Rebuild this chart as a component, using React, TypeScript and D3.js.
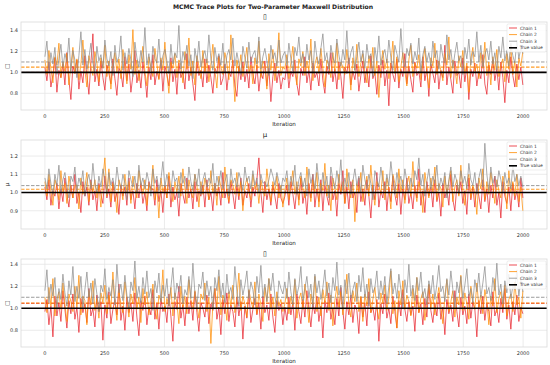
import React, { useEffect, useRef } from "react";
import * as d3 from "d3";

// Iterations are thinned: each array holds evenly spaced samples across 0..1999
const ITER_LAST = 1999;
const xTicks = [0, 250, 500, 750, 1000, 1250, 1500, 1750, 2000];
const chainNames = ["Chain 1", "Chain 2", "Chain 3"];
const chainColors = ["#e8202a", "#ff8c00", "#8c8c8c"];

// sigma (top panel)
const sigmaChain1 = [
  1.05, 0.92, 1.10, 0.86, 0.98, 1.14, 0.81, 1.02, 0.95, 1.08,
  0.88, 1.19, 0.93, 0.74, 1.06, 0.99, 1.12, 0.84, 1.01, 0.90,
  1.16, 0.97, 0.79, 1.09, 1.37, 0.91, 1.03, 0.87, 1.11, 0.95,
  0.83, 1.07, 0.99, 0.89, 1.13, 0.94, 0.78, 1.04, 1.00, 0.86,
  1.15, 0.92, 1.08, 0.81, 0.97, 1.21, 0.90, 1.02, 0.85, 1.10,
  0.96, 0.76, 1.05, 0.93, 1.17, 0.88, 1.01, 0.94, 1.12, 0.82,
  1.06, 0.98, 0.87, 1.14, 0.91, 1.03, 0.79, 1.09, 0.95, 1.00,
  0.84, 1.18, 0.92, 1.05, 0.89, 0.73, 1.11, 0.97, 1.02, 0.86,
  1.13, 0.90, 1.07, 0.95, 0.80, 1.04, 0.99, 1.16, 0.88, 0.94,
  1.08, 0.83, 1.01, 0.96, 1.12, 0.87, 0.77, 1.06, 0.93, 1.10,
  0.91, 1.03, 0.85, 1.15, 0.98, 0.89, 1.07, 0.82, 1.00, 0.94,
  1.11, 0.87, 1.04, 0.72, 0.96, 1.09, 0.90, 1.02, 0.84, 0.95,
  0.93, 1.07, 0.85, 1.01, 0.96, 1.12, 0.89, 0.78, 1.04, 0.97,
  1.15, 0.90, 1.02, 0.83, 1.09, 0.95, 1.00, 0.87, 1.13, 0.92,
  0.80, 1.06, 0.98, 1.19, 0.91, 1.03, 0.84, 1.10, 0.96, 0.75,
  1.05, 0.99, 1.14, 0.88, 1.01, 0.93, 1.08, 0.82, 0.97, 1.11,
  0.90, 1.04, 0.86, 1.16, 0.94, 1.00, 0.79, 1.07, 0.95, 1.12,
  0.87, 1.02, 0.68, 1.09, 0.98, 0.91, 1.13, 0.85, 1.03, 0.96,
  1.18, 0.89, 1.06, 0.93, 0.81, 1.10, 0.97, 1.01, 0.86, 1.15,
  0.92, 1.04, 0.77, 1.08, 0.99, 0.90, 1.12, 0.84, 1.02, 0.95,
  1.26, 0.88, 1.05, 0.93, 0.80, 1.11, 0.97, 1.00, 0.85, 1.14,
  0.91, 1.06, 0.74, 1.03, 0.96, 1.09, 0.87, 1.01, 0.94, 1.17,
  0.89, 0.79, 1.07, 0.98, 1.12, 0.92, 1.04, 0.83, 1.10, 0.95,
  0.71, 1.02, 0.90, 1.15, 0.97, 0.86, 1.08, 0.93, 1.05, 0.88,
];
const sigmaChain2 = [
  1.12, 0.98, 1.21, 1.03, 0.90, 1.15, 1.07, 1.28, 0.95, 1.10,
  1.01, 1.18, 0.88, 1.06, 1.24, 0.99, 1.13, 0.93, 1.08, 1.31,
  1.02, 0.86, 1.16, 1.05, 0.97, 1.20, 1.09, 0.91, 1.14, 1.04,
  1.26, 0.96, 1.11, 0.84, 1.07, 1.19, 1.00, 1.13, 0.94, 1.22,
  1.06, 0.89, 1.17, 1.03, 1.41, 0.98, 1.12, 0.92, 1.09, 1.25,
  1.01, 0.87, 1.15, 1.05, 0.96, 1.23, 1.08, 0.93, 1.14, 1.02,
  1.29, 0.99, 0.80, 1.10, 1.04, 1.18, 0.95, 1.12, 1.07, 0.90,
  1.20, 1.03, 1.33, 0.97, 1.11, 0.88, 1.16, 1.06, 0.94, 1.21,
  1.00, 1.13, 0.91, 1.08, 1.27, 1.02, 0.85, 1.15, 1.05, 0.98,
  1.19, 1.09, 0.93, 1.36, 1.04, 0.72, 1.12, 1.01, 1.17, 0.96,
  1.10, 1.24, 0.99, 1.07, 0.89, 1.14, 1.03, 1.30, 0.95, 1.11,
  1.06, 0.84, 1.18, 1.02, 1.22, 0.92, 1.09, 1.38, 0.97, 1.05,
  1.03, 1.17, 0.94, 1.09, 1.25, 1.00, 0.88, 1.13, 1.06, 1.20,
  0.97, 1.11, 1.02, 1.32, 0.92, 1.08, 1.15, 0.99, 1.23, 1.04,
  0.86, 1.12, 1.07, 0.95, 1.19, 1.01, 1.28, 0.93, 1.10, 1.05,
  0.98, 1.22, 1.06, 0.83, 1.14, 1.02, 1.27, 0.96, 1.09, 1.18,
  1.00, 0.90, 1.16, 1.04, 1.24, 0.97, 1.11, 0.76, 1.07, 1.21,
  1.03, 1.13, 0.94, 1.08, 1.30, 0.99, 1.15, 0.91, 1.05, 1.19,
  1.01, 0.87, 1.12, 1.26, 0.96, 1.09, 1.04, 1.17, 0.93, 1.10,
  1.23, 1.00, 0.85, 1.14, 1.06, 1.28, 0.98, 1.11, 1.02, 0.92,
  1.18, 1.07, 1.34, 0.95, 1.12, 1.03, 0.89, 1.16, 1.05, 1.21,
  0.99, 1.09, 0.81, 1.13, 1.24, 1.01, 1.08, 0.94, 1.19, 1.04,
  1.29, 0.97, 1.10, 0.88, 1.15, 1.02, 1.22, 0.96, 1.07, 1.13,
  0.91, 1.18, 1.03, 1.26, 0.98, 1.11, 0.86, 1.14, 1.06, 1.20,
];
const sigmaChain3 = [
  1.15, 1.30, 1.02, 1.19, 1.08, 1.24, 0.98, 1.13, 1.27, 1.05,
  1.18, 1.10, 1.33, 1.01, 1.21, 1.12, 0.95, 1.16, 1.39, 1.07,
  1.22, 1.03, 1.14, 1.28, 1.09, 0.99, 1.25, 1.11, 1.17, 1.04,
  1.31, 1.13, 1.06, 1.20, 0.97, 1.26, 1.10, 1.15, 1.35, 1.02,
  1.19, 1.08, 1.23, 1.12, 0.96, 1.29, 1.14, 1.05, 1.21, 1.10,
  1.43, 1.07, 1.18, 1.01, 1.25, 1.13, 1.09, 1.32, 1.04, 1.16,
  1.22, 1.11, 0.99, 1.27, 1.08, 1.19, 1.14, 1.45, 1.03, 1.20,
  1.12, 1.26, 1.06, 1.17, 0.94, 1.23, 1.10, 1.30, 1.05, 1.15,
  1.21, 1.09, 1.36, 1.13, 1.02, 1.24, 1.11, 1.18, 1.07, 1.28,
  1.00, 1.16, 1.22, 1.12, 1.33, 1.06, 1.19, 1.09, 0.98, 1.25,
  1.14, 1.04, 1.29, 1.10, 1.17, 1.21, 1.08, 1.34, 1.03, 1.15,
  1.23, 1.11, 0.97, 1.26, 1.13, 1.19, 1.06, 1.31, 1.09, 1.16,
  1.20, 1.07, 1.28, 1.13, 1.01, 1.24, 1.16, 1.34, 1.09, 1.18,
  1.05, 1.27, 1.12, 1.21, 0.99, 1.30, 1.15, 1.08, 1.23, 1.37,
  1.11, 1.19, 1.03, 1.26, 1.14, 1.09, 1.32, 1.17, 1.06, 1.22,
  1.12, 1.40, 1.08, 1.19, 1.25, 1.02, 1.15, 1.29, 1.10, 1.21,
  1.04, 1.27, 1.13, 1.18, 0.96, 1.24, 1.11, 1.35, 1.07, 1.16,
  1.22, 1.09, 1.31, 1.14, 1.02, 1.26, 1.18, 1.10, 1.42, 1.13,
  1.05, 1.23, 1.16, 1.28, 1.08, 1.20, 1.12, 1.33, 1.00, 1.17,
  1.25, 1.10, 1.19, 1.06, 1.30, 1.14, 1.21, 1.03, 1.27, 1.15,
  1.09, 1.36, 1.12, 1.22, 1.04, 1.18, 1.29, 1.11, 1.16, 0.98,
  1.24, 1.13, 1.32, 1.07, 1.20, 1.15, 1.39, 1.10, 1.26, 1.05,
  1.17, 1.23, 1.12, 1.30, 1.08, 1.19, 1.02, 1.25, 1.14, 1.34,
  1.11, 1.21, 1.06, 1.28, 1.16, 1.09, 1.31, 1.13, 1.24, 1.18,
];

// mu (middle panel)
const muChain1 = [
  1.03, 0.96, 1.07, 0.93, 1.01, 0.98, 1.05, 0.91, 1.02, 0.95,
  1.08, 0.99, 0.92, 1.04, 0.97, 1.10, 0.94, 1.00, 0.89, 1.06,
  0.98, 1.03, 0.93, 1.07, 0.96, 1.01, 0.90, 1.05, 0.99, 0.94,
  1.09, 0.97, 1.02, 0.92, 1.06, 0.95, 1.00, 0.88, 1.04, 0.98,
  1.03, 0.93, 1.08, 0.96, 1.01, 0.91, 1.05, 0.97, 1.05, 0.94,
  1.00, 0.90, 1.06, 1.02, 1.02, 0.93, 1.07, 0.95, 1.01, 0.89,
  1.04, 0.97, 1.09, 0.92, 1.03, 0.96, 1.00, 0.87, 1.05, 0.99,
  0.94, 1.08, 0.97, 1.02, 0.91, 1.06, 0.95, 1.01, 0.98, 1.04,
  0.92, 1.07, 0.96, 1.00, 0.90, 1.05, 0.98, 1.03, 0.93, 1.11,
  0.97, 1.02, 0.94, 1.06, 0.99, 0.91, 1.04, 0.96, 1.08, 0.93,
  1.01, 0.97, 1.05, 0.92, 1.03, 0.98, 1.07, 1.19, 1.00, 0.89,
  1.06, 0.96, 1.02, 0.93, 1.04, 0.98, 0.91, 1.05, 0.97, 0.94,
  0.98, 1.04, 0.93, 1.06, 0.99, 0.91, 1.03, 0.96, 1.08, 0.94,
  1.01, 0.88, 1.05, 0.97, 1.10, 0.92, 1.02, 0.95, 1.07, 0.90,
  1.04, 0.98, 0.93, 1.09, 0.96, 1.01, 0.87, 1.05, 0.99, 1.12,
  0.94, 1.03, 0.91, 1.06, 0.97, 1.00, 0.89, 1.08, 0.95, 1.02,
  0.93, 1.07, 0.98, 0.86, 1.04, 0.96, 1.11, 0.92, 1.01, 0.97,
  1.06, 0.90, 1.03, 0.95, 1.09, 0.99, 0.93, 1.05, 0.88, 1.02,
  0.96, 1.08, 0.94, 1.00, 0.91, 1.04, 0.97, 1.13, 0.93, 1.01,
  0.89, 1.06, 0.98, 1.03, 0.92, 1.07, 0.95, 1.00, 0.87, 1.05,
  0.97, 1.02, 0.93, 1.10, 0.96, 0.90, 1.04, 0.99, 1.06, 0.94,
  1.01, 0.88, 1.08, 0.96, 1.03, 0.92, 1.05, 0.98, 0.91, 1.07,
  0.95, 1.02, 0.89, 1.04, 0.97, 1.09, 0.93, 1.00, 0.86, 1.06,
  0.98, 0.94, 1.03, 0.90, 1.05, 0.96, 1.01, 0.92, 1.08, 0.97,
];
const muChain2 = [
  1.06, 0.98, 1.10, 1.01, 0.93, 1.07, 1.03, 0.96, 1.12, 1.00,
  1.05, 0.94, 1.09, 1.02, 0.97, 1.04, 1.04, 0.91, 1.08, 0.99,
  1.03, 1.11, 0.95, 1.06, 1.00, 1.07, 0.97, 1.04, 0.92, 1.08,
  1.19, 0.98, 1.13, 0.95, 1.05, 1.01, 0.89, 1.07, 1.03, 0.96,
  1.10, 1.00, 1.06, 0.94, 1.09, 1.02, 0.97, 1.12, 1.04, 0.99,
  1.07, 0.93, 1.05, 1.01, 1.15, 0.96, 1.03, 0.86, 1.08, 1.00,
  1.04, 0.97, 1.11, 1.02, 0.95, 1.06, 1.00, 1.09, 0.98, 1.13,
  1.03, 0.94, 1.07, 1.01, 0.97, 1.10, 1.04, 0.92, 1.06, 0.99,
  1.08, 1.02, 0.96, 1.12, 1.00, 1.05, 0.93, 1.09, 1.03, 0.97,
  1.14, 1.01, 0.95, 1.07, 1.04, 0.99, 1.11, 0.98, 1.06, 0.90,
  1.03, 1.08, 1.00, 0.96, 1.10, 1.02, 1.05, 0.94, 1.07, 1.01,
  0.98, 1.13, 1.03, 0.95, 1.06, 1.00, 1.09, 0.97, 1.04, 0.92,
  1.01, 1.08, 0.96, 1.04, 1.12, 0.99, 1.06, 0.93, 1.09, 1.02,
  0.97, 1.14, 1.03, 0.95, 1.07, 1.00, 1.11, 0.92, 1.05, 1.01,
  1.16, 0.98, 1.04, 0.90, 1.08, 1.03, 0.96, 1.10, 1.00, 1.06,
  0.94, 1.13, 1.02, 0.97, 1.07, 0.84, 1.05, 1.00, 1.11, 0.95,
  1.03, 1.09, 0.98, 1.15, 1.01, 0.93, 1.06, 1.04, 0.99, 1.12,
  0.96, 1.08, 1.02, 0.91, 1.10, 1.05, 0.97, 1.13, 1.00, 1.07,
  0.94, 1.04, 1.09, 0.98, 1.17, 1.02, 0.95, 1.06, 1.01, 0.89,
  1.11, 1.03, 0.97, 1.08, 1.00, 1.14, 0.96, 1.05, 1.02, 0.92,
  1.09, 0.99, 1.06, 1.12, 0.95, 1.03, 1.07, 0.98, 1.15, 1.01,
  0.93, 1.05, 1.10, 0.97, 1.04, 1.00, 0.88, 1.08, 1.02, 1.13,
  0.96, 1.06, 0.99, 1.11, 1.03, 0.94, 1.07, 1.01, 0.97, 1.09,
  1.04, 0.91, 1.12, 1.00, 1.06, 0.98, 1.10, 0.95, 1.03, 0.90,
];
const muChain3 = [
  1.08, 1.02, 1.13, 1.05, 0.99, 1.10, 1.04, 1.15, 1.00, 1.07,
  1.11, 1.03, 0.97, 1.09, 1.06, 1.14, 1.01, 1.08, 1.04, 1.12,
  0.98, 1.06, 1.10, 1.02, 1.16, 1.05, 1.00, 1.09, 1.03, 1.13,
  1.07, 0.99, 1.11, 1.04, 1.08, 1.01, 1.14, 1.06, 1.02, 1.10,
  1.05, 0.96, 1.12, 1.07, 1.03, 1.09, 1.00, 1.15, 1.04, 1.08,
  1.02, 1.11, 1.06, 0.98, 1.13, 1.05, 1.09, 1.01, 1.07, 1.17,
  1.03, 1.10, 1.04, 1.00, 1.12, 1.06, 1.08, 0.97, 1.11, 1.05,
  1.09, 1.02, 1.14, 1.06, 1.01, 1.10, 1.04, 1.13, 0.99, 1.07,
  1.11, 1.03, 1.08, 1.05, 1.16, 1.00, 1.09, 1.04, 1.12, 1.02,
  1.06, 1.10, 0.98, 1.13, 1.05, 1.08, 1.03, 1.11, 1.07, 1.01,
  1.14, 1.06, 1.09, 1.02, 1.12, 1.04, 1.08, 1.00, 1.10, 1.05,
  1.06, 1.03, 1.07, 1.13, 1.09, 1.04, 1.11, 1.06, 1.01, 1.08,
  1.06, 1.12, 1.01, 1.09, 1.04, 1.15, 0.99, 1.07, 1.11, 1.03,
  1.08, 0.98, 1.13, 1.05, 1.10, 1.02, 1.16, 1.06, 1.00, 1.11,
  1.04, 1.09, 0.97, 1.14, 1.07, 1.02, 1.12, 1.05, 1.18, 1.01,
  1.08, 1.03, 1.11, 0.99, 1.06, 1.13, 1.04, 1.09, 1.00, 1.15,
  1.07, 1.02, 1.10, 1.05, 0.96, 1.12, 1.08, 1.03, 1.14, 1.06,
  1.01, 1.10, 1.04, 1.17, 1.07, 0.99, 1.11, 1.05, 1.09, 1.02,
  1.13, 1.06, 1.00, 1.08, 1.03, 1.12, 1.07, 1.19, 1.04, 1.10,
  0.98, 1.06, 1.13, 1.02, 1.09, 1.05, 1.15, 1.01, 1.08, 1.04,
  1.11, 0.97, 1.07, 1.14, 1.03, 1.10, 1.06, 1.00, 1.12, 1.05,
  1.09, 1.02, 1.16, 1.07, 1.04, 1.11, 0.99, 1.08, 1.13, 1.03,
  1.27, 1.10, 1.01, 1.14, 1.05, 1.09, 1.03, 1.12, 1.07, 1.00,
  1.11, 1.05, 1.08, 1.02, 1.15, 1.06, 1.10, 1.04, 1.09, 1.03,
];

// third parameter (bottom panel)
const thetaChain1 = [
  0.97, 1.08, 0.85, 1.02, 0.74, 1.11, 0.93, 1.05, 0.88, 1.16,
  0.99, 0.82, 1.07, 0.95, 1.13, 0.90, 1.01, 0.78, 1.09, 0.96,
  1.04, 0.87, 1.18, 0.93, 1.00, 0.83, 1.12, 0.97, 1.06, 0.71,
  1.03, 0.91, 1.15, 0.86, 0.99, 1.08, 0.94, 1.22, 0.89, 1.02,
  0.80, 1.10, 0.96, 1.05, 0.88, 1.14, 0.92, 0.75, 1.07, 0.98,
  1.11, 0.85, 1.01, 0.94, 1.17, 0.90, 1.04, 0.81, 1.09, 0.97,
  1.02, 0.87, 1.13, 0.93, 0.70, 1.06, 0.99, 1.20, 0.91, 1.03,
  0.84, 1.10, 0.95, 1.07, 0.89, 1.15, 0.96, 0.79, 1.05, 1.00,
  0.92, 1.12, 0.86, 1.04, 0.98, 1.18, 0.90, 1.01, 0.76, 1.08,
  0.95, 1.14, 0.88, 1.03, 0.97, 0.83, 1.10, 0.93, 1.06, 0.72,
  1.02, 0.91, 1.16, 0.87, 0.99, 1.09, 0.94, 1.05, 0.81, 1.11,
  0.96, 1.03, 0.89, 1.13, 0.92, 0.78, 1.07, 0.98, 1.04, 0.85,
  1.01, 0.89, 1.10, 0.94, 1.05, 0.80, 1.13, 0.97, 0.86, 1.08,
  0.92, 1.16, 0.99, 0.83, 1.04, 0.95, 1.11, 0.88, 1.02, 0.73,
  1.07, 0.96, 1.14, 0.90, 1.00, 0.85, 1.09, 0.93, 1.19, 0.97,
  0.81, 1.06, 0.94, 1.12, 0.87, 1.03, 0.98, 0.77, 1.10, 0.92,
  1.05, 0.84, 1.15, 0.96, 1.01, 0.89, 1.08, 0.70, 1.04, 0.95,
  1.13, 0.91, 1.00, 0.86, 1.11, 0.97, 0.82, 1.07, 0.93, 1.17,
  0.99, 0.88, 1.06, 0.94, 1.02, 0.79, 1.12, 0.96, 1.04, 0.85,
  1.09, 0.92, 1.21, 0.98, 0.87, 1.05, 0.93, 1.14, 0.90, 1.01,
  0.76, 1.08, 0.95, 1.03, 0.88, 1.16, 0.97, 0.83, 1.10, 0.94,
  1.02, 0.86, 1.13, 0.91, 1.06, 0.99, 0.74, 1.07, 0.95, 1.11,
  0.89, 1.04, 0.97, 0.84, 1.15, 0.93, 1.00, 0.87, 1.09, 0.96,
  1.18, 0.90, 1.03, 0.81, 1.06, 0.94, 1.12, 0.88, 1.01, 0.95,
];
const thetaChain2 = [
  1.10, 0.96, 1.19, 1.02, 1.27, 0.93, 1.08, 1.15, 0.99, 1.23,
  1.04, 0.88, 1.13, 1.06, 0.97, 1.20, 1.01, 1.30, 0.94, 1.11,
  1.07, 0.85, 1.16, 1.03, 1.25, 0.98, 1.09, 0.91, 1.14, 1.05,
  1.21, 0.95, 1.12, 1.00, 1.33, 1.06, 0.89, 1.17, 1.02, 0.96,
  1.24, 1.08, 0.92, 1.13, 1.04, 1.28, 0.99, 1.10, 0.87, 1.18,
  1.03, 1.15, 0.94, 1.07, 1.22, 1.00, 0.90, 1.12, 1.06, 1.35,
  0.97, 1.09, 1.02, 1.19, 0.93, 1.14, 1.05, 0.86, 1.20, 1.01,
  1.11, 0.95, 1.26, 1.07, 0.99, 1.16, 1.03, 0.91, 1.13, 1.08,
  1.23, 0.97, 1.10, 0.68, 1.04, 1.18, 1.00, 1.29, 0.94, 1.12,
  1.06, 0.89, 1.15, 1.02, 1.21, 0.96, 1.09, 1.32, 0.98, 1.11,
  1.04, 0.92, 1.17, 1.07, 1.00, 1.24, 0.95, 1.13, 1.03, 0.88,
  1.19, 1.06, 1.27, 0.99, 1.10, 0.93, 1.15, 1.02, 1.08, 0.97,
  1.04, 1.18, 0.95, 1.11, 1.02, 1.26, 0.91, 1.08, 1.14, 0.99,
  1.22, 1.06, 0.87, 1.13, 1.03, 1.29, 0.97, 1.10, 0.93, 1.17,
  1.05, 1.24, 0.98, 1.12, 0.84, 1.07, 1.20, 1.01, 1.15, 0.94,
  1.09, 1.31, 1.03, 0.92, 1.16, 1.06, 1.23, 0.97, 1.11, 0.88,
  1.13, 1.02, 1.27, 0.96, 1.08, 1.19, 1.00, 0.90, 1.14, 1.05,
  1.21, 0.98, 1.10, 1.34, 0.95, 1.07, 0.82, 1.16, 1.03, 1.25,
  0.99, 1.12, 1.06, 0.93, 1.18, 1.01, 1.28, 0.96, 1.09, 1.15,
  0.89, 1.05, 1.22, 1.00, 1.13, 0.94, 1.08, 1.19, 1.02, 0.86,
  1.11, 1.26, 0.97, 1.06, 1.16, 0.92, 1.10, 1.03, 1.30, 0.98,
  1.14, 1.04, 0.90, 1.20, 1.07, 0.99, 1.23, 1.01, 1.12, 0.95,
  1.17, 1.06, 0.85, 1.11, 1.02, 1.27, 0.96, 1.09, 1.15, 1.00,
  1.21, 0.93, 1.08, 1.13, 0.97, 1.24, 1.03, 1.10, 0.91, 1.16,
];
const thetaChain3 = [
  1.16, 1.35, 1.05, 1.22, 1.11, 1.28, 0.99, 1.18, 1.08, 1.31,
  1.14, 1.02, 1.25, 1.12, 1.38, 1.06, 1.20, 1.09, 1.29, 1.01,
  1.17, 1.33, 1.10, 1.23, 1.04, 1.27, 1.13, 0.97, 1.21, 1.15,
  1.36, 1.08, 1.19, 1.11, 1.26, 1.03, 1.40, 1.14, 1.22, 1.07,
  1.30, 1.12, 1.00, 1.24, 1.16, 1.43, 1.09, 1.20, 1.05, 1.28,
  1.13, 1.34, 1.10, 1.18, 0.98, 1.25, 1.14, 1.32, 1.06, 1.21,
  1.11, 1.27, 1.02, 1.19, 1.37, 1.08, 1.23, 1.15, 1.30, 1.04,
  1.17, 1.12, 1.29, 1.09, 1.41, 1.14, 1.01, 1.22, 1.18, 1.33,
  1.07, 1.25, 1.11, 1.20, 0.99, 1.28, 1.16, 1.35, 1.10, 1.23,
  1.05, 1.31, 1.13, 1.19, 1.08, 1.38, 1.15, 1.02, 1.26, 1.12,
  1.21, 1.34, 1.09, 1.24, 1.17, 1.03, 1.29, 1.14, 1.39, 1.10,
  1.22, 1.06, 1.27, 1.16, 1.32, 1.11, 1.00, 1.25, 1.18, 1.13,
  1.24, 1.09, 1.33, 1.15, 1.03, 1.27, 1.12, 1.20, 1.38, 1.07,
  1.18, 1.29, 1.10, 1.22, 1.01, 1.31, 1.14, 1.25, 1.08, 1.19,
  1.35, 1.11, 1.23, 1.05, 1.28, 1.16, 1.42, 1.12, 1.21, 0.99,
  1.26, 1.13, 1.32, 1.09, 1.17, 1.24, 1.06, 1.30, 1.15, 1.37,
  1.10, 1.22, 1.02, 1.27, 1.14, 1.19, 1.34, 1.08, 1.25, 1.12,
  1.29, 1.04, 1.20, 1.36, 1.13, 1.23, 1.09, 1.31, 1.17, 1.00,
  1.26, 1.14, 1.40, 1.11, 1.21, 1.07, 1.28, 1.16, 1.33, 1.10,
  1.18, 1.03, 1.25, 1.13, 1.30, 1.08, 1.22, 1.39, 1.15, 1.20,
  1.06, 1.27, 1.12, 1.34, 1.17, 1.01, 1.24, 1.14, 1.29, 1.09,
  1.21, 1.36, 1.11, 1.18, 1.05, 1.26, 1.15, 1.32, 1.10, 1.23,
  1.38, 1.13, 1.19, 1.07, 1.28, 1.16, 1.41, 1.12, 1.22, 1.04,
  1.25, 1.14, 1.31, 1.09, 1.20, 1.17, 1.35, 1.11, 1.27, 1.15,
];

// dashed per-chain mean lines and the true value
const sigmaMeans = [1.0, 1.05, 1.1];
const muMeans = [1.0, 1.018, 1.038];
const thetaMeans = [1.045, 1.048, 1.1];
const trueValues = [1.0, 1.0, 1.0];

const panelTitles = ["▯", "μ", "▯"];
const axisLabels = ["□", "μ", "□"];
const yTickSets = [
  [0.8, 1.0, 1.2, 1.4],
  [0.9, 1.0, 1.1, 1.2],
  [0.8, 1.0, 1.2, 1.4],
];
const yLimits: [number, number][] = [
  [0.64, 1.483],
  [0.8, 1.288],
  [0.648, 1.448],
];

const W = 550;
const H = 365;
const FONT = "DejaVu Sans, sans-serif";

const App: React.FC = () => {
  const svgRef = useRef<SVGSVGElement | null>(null);

  useEffect(() => {
    if (!svgRef.current) return;
    const svg = d3.select(svgRef.current);
    svg.selectAll("*").remove();

    svg.append("rect").attr("width", W).attr("height", H).attr("fill", "#fff");

    svg
      .append("text")
      .attr("x", 273)
      .attr("y", 8.5)
      .attr("text-anchor", "middle")
      .style("font-family", FONT)
      .style("font-size", "6.1px")
      .style("font-weight", "bold")
      .attr("fill", "#222")
      .text("MCMC Trace Plots for Two-Parameter Maxwell Distribution");

    const panels = [
      { chains: [sigmaChain1, sigmaChain2, sigmaChain3], means: sigmaMeans, top: 22, bottom: 110 },
      { chains: [muChain1, muChain2, muChain3], means: muMeans, top: 140, bottom: 229 },
      { chains: [thetaChain1, thetaChain2, thetaChain3], means: thetaMeans, top: 259, bottom: 347 },
    ];

    const left = 21;
    const right = 547;

    const xScale = d3.scaleLinear().domain([-100, 2100]).range([left, right]);

    panels.forEach((p, pi) => {
      const yScale = d3.scaleLinear().domain(yLimits[pi]).range([p.bottom, p.top]);
      const g = svg.append("g");

      // grid
      g.selectAll(".gx")
        .data(xTicks)
        .enter()
        .append("line")
        .attr("x1", (d) => xScale(d))
        .attr("x2", (d) => xScale(d))
        .attr("y1", p.top)
        .attr("y2", p.bottom)
        .attr("stroke", "#e6e6e6")
        .attr("stroke-width", 0.8);
      g.selectAll(".gy")
        .data(yTickSets[pi])
        .enter()
        .append("line")
        .attr("x1", left)
        .attr("x2", right)
        .attr("y1", (d) => yScale(d))
        .attr("y2", (d) => yScale(d))
        .attr("stroke", "#e6e6e6")
        .attr("stroke-width", 0.8);

      // chain mean lines (dashed, under the traces)
      p.means.forEach((m, ci) => {
        g.append("line")
          .attr("x1", left)
          .attr("x2", right)
          .attr("y1", yScale(m))
          .attr("y2", yScale(m))
          .attr("stroke", chainColors[ci])
          .attr("stroke-width", ci === 1 ? 1.2 : 1)
          .attr("stroke-dasharray", "3.5,1.5")
          .attr("opacity", 0.85);
      });

      // traces
      p.chains.forEach((vals, ci) => {
        const iterScale = d3.scaleLinear().domain([0, vals.length - 1]).range([0, ITER_LAST]);
        const line = d3
          .line<number>()
          .x((_, i) => xScale(iterScale(i)))
          .y((d) => yScale(d));
        g.append("path")
          .datum(vals)
          .attr("d", line)
          .attr("fill", "none")
          .attr("stroke", chainColors[ci])
          .attr("stroke-width", 0.9)
          .attr("stroke-opacity", 0.8);
      });

      // true value
      g.append("line")
        .attr("x1", left)
        .attr("x2", right)
        .attr("y1", yScale(trueValues[pi]))
        .attr("y2", yScale(trueValues[pi]))
        .attr("stroke", "#000")
        .attr("stroke-width", 1.6);

      // frame
      g.append("rect")
        .attr("x", left)
        .attr("y", p.top)
        .attr("width", right - left)
        .attr("height", p.bottom - p.top)
        .attr("fill", "none")
        .attr("stroke", "#d9d9d9")
        .attr("stroke-width", 0.8);

      // tick labels
      g.selectAll(".xt")
        .data(xTicks)
        .enter()
        .append("text")
        .attr("x", (d) => xScale(d))
        .attr("y", p.bottom + 8)
        .attr("text-anchor", "middle")
        .style("font-family", FONT)
        .style("font-size", "5px")
        .attr("fill", "#333")
        .text((d) => d);
      g.selectAll(".yt")
        .data(yTickSets[pi])
        .enter()
        .append("text")
        .attr("x", left - 3)
        .attr("y", (d) => yScale(d) + 1.8)
        .attr("text-anchor", "end")
        .style("font-family", FONT)
        .style("font-size", "5px")
        .attr("fill", "#333")
        .text((d) => d3.format(".1f")(d));

      g.append("text")
        .attr("x", (left + right) / 2)
        .attr("y", p.bottom + 15.5)
        .attr("text-anchor", "middle")
        .style("font-family", FONT)
        .style("font-size", "5.6px")
        .attr("fill", "#222")
        .text("Iteration");

      g.append("text")
        .attr("x", 265)
        .attr("y", p.top - 3)
        .attr("text-anchor", "middle")
        .style("font-family", FONT)
        .style("font-size", "7px")
        .attr("fill", "#222")
        .text(panelTitles[pi]);

      g.append("text")
        .attr("transform", `translate(8.5,${(p.top + p.bottom) / 2}) rotate(-90)`)
        .attr("text-anchor", "middle")
        .style("font-family", FONT)
        .style("font-size", "5.6px")
        .attr("fill", "#222")
        .text(axisLabels[pi]);

      // legend
      const lx = 507;
      const ly = p.top + 2;
      const lg = g.append("g");
      lg.append("rect")
        .attr("x", lx)
        .attr("y", ly)
        .attr("width", right - 1 - lx)
        .attr("height", 28)
        .attr("rx", 1.2)
        .attr("fill", "#fff")
        .attr("fill-opacity", 0.85)
        .attr("stroke", "#dcdcdc")
        .attr("stroke-width", 0.5);
      const items = [...chainNames, "True value"];
      items.forEach((name, i) => {
        const yy = ly + 4 + i * 6.6;
        lg.append("line")
          .attr("x1", lx + 2)
          .attr("x2", lx + 10)
          .attr("y1", yy)
          .attr("y2", yy)
          .attr("stroke", i < 3 ? chainColors[i] : "#000")
          .attr("stroke-width", i < 3 ? 1 : 1.6)
          .attr("stroke-opacity", i < 3 ? 0.8 : 1);
        lg.append("text")
          .attr("x", lx + 13)
          .attr("y", yy + 1.6)
          .style("font-family", FONT)
          .style("font-size", "4.4px")
          .attr("fill", "#333")
          .text(name);
      });
    });
  }, []);

  return (
    <svg
      ref={svgRef}
      width={W}
      height={H}
      style={{ position: "absolute", left: 0, top: 0, display: "block" }}
    />
  );
};

export default App;
